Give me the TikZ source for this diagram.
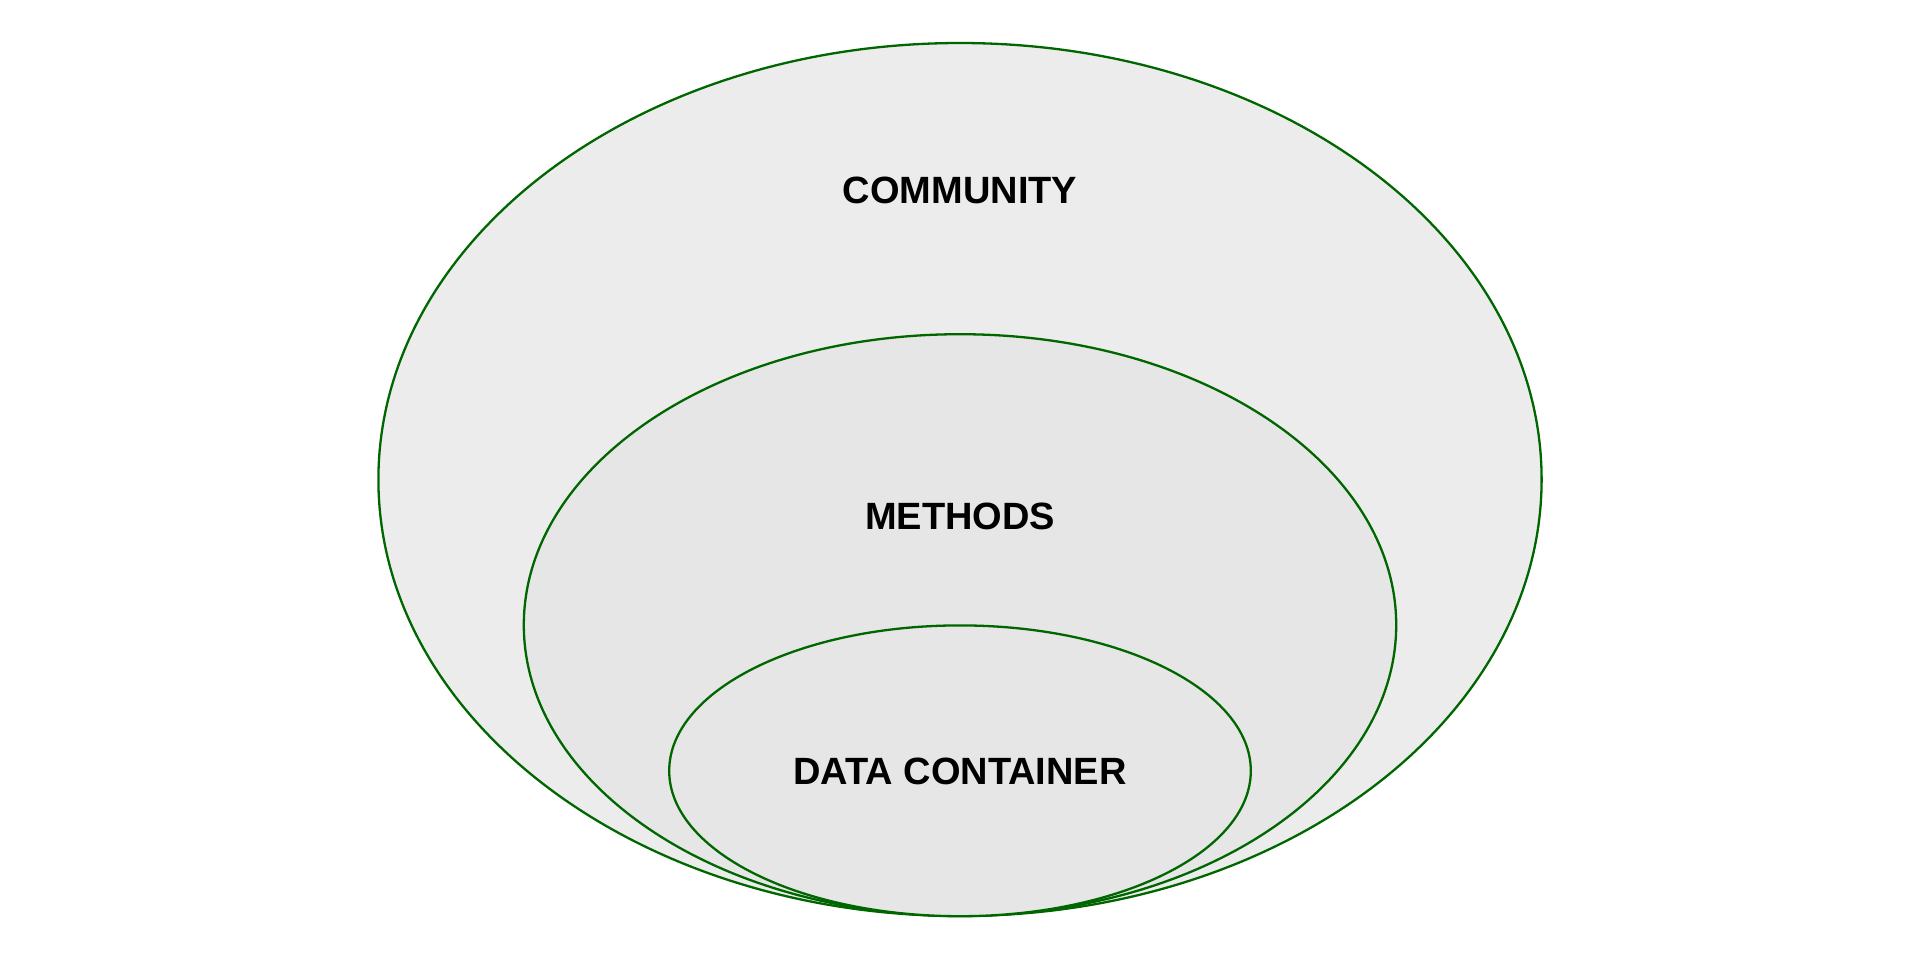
\documentclass[tikz,border=0pt]{standalone}
\usepackage{fontspec}
\setmainfont{Liberation Sans}
\definecolor{ringgreen}{HTML}{006600}
\definecolor{outerfill}{HTML}{ECECEC}
\definecolor{innerfill}{HTML}{E6E6E6}
\begin{document}
\begin{tikzpicture}[x=0.5pt,y=-0.5pt,
  ring/.style={draw=ringgreen,line width=1.15pt},
  lbl/.style={font=\fontsize{19}{22}\selectfont\bfseries,text=black,inner sep=0pt}]
\useasboundingbox (0,0) rectangle (1920,960);
\path[ring,fill=outerfill] (960,479.5) ellipse [x radius=290.8pt, y radius=218.25pt];
\path[ring,fill=innerfill] (960,625) ellipse [x radius=218.1pt, y radius=145.4pt];
\path[ring,fill=innerfill] (960,770.8) ellipse [x radius=145.4pt, y radius=72.7pt];
\node[lbl] (community) at (960,190) {COMMUNITY};
\node[lbl] (methods) at (960,516) {METHODS};
\node[lbl] (data) at (960,771) {DATA CONTAINER};
\end{tikzpicture}
\end{document}
